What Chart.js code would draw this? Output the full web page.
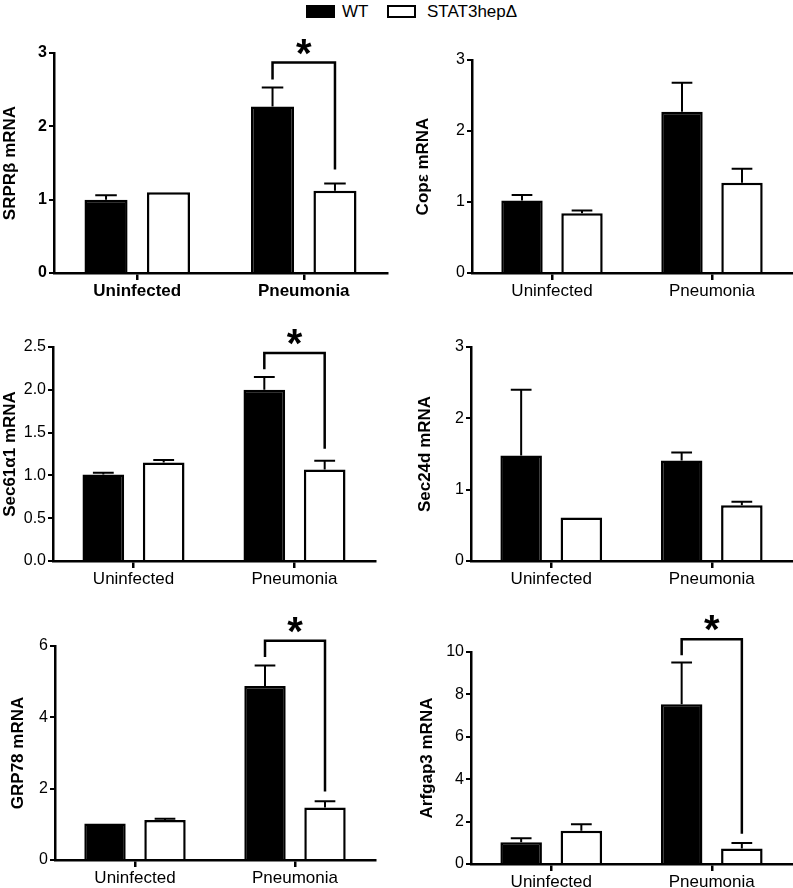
<!DOCTYPE html>
<html>
<head>
<meta charset="utf-8">
<script src="https://cdn.jsdelivr.net/npm/chart.js@4.4.0/dist/chart.umd.min.js"></script>
<style>
body { margin: 0; background: #fff; font-family: "Liberation Sans", Arial, sans-serif; }
#page { position: relative; width: 793px; height: 888px; overflow: hidden; }
canvas { position: absolute; }
.lg { position: absolute; top: 0; height: 24px; line-height: 24px; font-size: 17px; color: #000; }
.sw { position: absolute; top: 5px; width: 29px; height: 13px; box-sizing: border-box; border: 2px solid #000; }
</style>
</head>
<body>
<div id="page">
  <div class="sw" style="left:306px;background:#000"></div>
  <div class="lg" style="left:342px">WT</div>
  <div class="sw" style="left:387px;background:#fff"></div>
  <div class="lg" style="left:427px">STAT3hepΔ</div>
</div>
<script>
var categories = ['Uninfected', 'Pneumonia'];
var groups = ['WT', 'STAT3hepΔ'];

// means and error (SEM)
var srprWT = [1.00, 2.27], srprWTErr = [0.06, 0.26];
var srprKO = [1.10, 1.12], srprKOErr = [0, 0.10];
var copWT = [1.02, 2.27], copWTErr = [0.08, 0.41];
var copKO = [0.84, 1.27], copKOErr = [0.04, 0.20];
var sec61WT = [1.01, 2.00], sec61WTErr = [0.02, 0.15];
var sec61KO = [1.15, 1.07], sec61KOErr = [0.03, 0.10];
var sec24WT = [1.48, 1.41], sec24WTErr = [0.92, 0.11];
var sec24KO = [0.61, 0.78], sec24KOErr = [0, 0.05];
var grpWT = [1.02, 4.88], grpWTErr = [0, 0.57];
var grpKO = [1.12, 1.47], grpKOErr = [0.04, 0.18];
var arfWT = [1.03, 7.53], arfWTErr = [0.19, 1.97];
var arfKO = [1.57, 0.73], arfKOErr = [0.31, 0.26];

// significance brackets: [bracket top, left leg end, right leg end]
var srprSig = [2.87, 2.64, 1.41];
var sec61Sig = [2.43, 2.24, 1.31];
var grpSig = [6.15, 5.69, 1.92];
var arfSig = [10.6, 9.85, 1.43];

var panels = [
  { title: 'SRPRβ mRNA', wt: srprWT, wtErr: srprWTErr, ko: srprKO, koErr: srprKOErr, max: 3, step: 1, dec: 0, sig: srprSig, bold: true,
    box: [0, 24, 396, 281], area: [54, 53, 387, 273], tpad: 0 },
  { title: 'Copε mRNA', wt: copWT, wtErr: copWTErr, ko: copKO, koErr: copKOErr, max: 3, step: 1, dec: 0, sig: null,
    box: [396, 24, 397, 281], area: [472, 60, 792, 273], tpad: 17 },
  { title: 'Sec61α1 mRNA', wt: sec61WT, wtErr: sec61WTErr, ko: sec61KO, koErr: sec61KOErr, max: 2.5, step: 0.5, dec: 1, sig: sec61Sig,
    box: [0, 305, 396, 290], area: [53, 347, 375, 561], tpad: 0 },
  { title: 'Sec24d mRNA', wt: sec24WT, wtErr: sec24WTErr, ko: sec24KO, koErr: sec24KOErr, max: 3, step: 1, dec: 0, sig: null,
    box: [396, 305, 397, 290], area: [471, 347, 792, 561], tpad: 19 },
  { title: 'GRP78 mRNA', wt: grpWT, wtErr: grpWTErr, ko: grpKO, koErr: grpKOErr, max: 6, step: 2, dec: 0, sig: grpSig,
    box: [0, 595, 396, 293], area: [55, 646, 375, 860], tpad: 8 },
  { title: 'Arfgap3 mRNA', wt: arfWT, wtErr: arfWTErr, ko: arfKO, koErr: arfKOErr, max: 10, step: 2, dec: 0, sig: arfSig,
    box: [396, 595, 397, 293], area: [471, 652, 792, 864], tpad: 21 }
];

var FONT = '"Liberation Sans", Arial, sans-serif';
var XH = 24;

// upward error bars and the significance bracket
var extras = {
  id: 'extras',
  afterDatasetsDraw: function (chart, args, opts) {
    var ctx = chart.ctx;
    var y = chart.scales.y;
    ctx.save();
    ctx.strokeStyle = '#000';
    ctx.lineWidth = 2;
    chart.data.datasets.forEach(function (ds, i) {
      var meta = chart.getDatasetMeta(i);
      meta.data.forEach(function (bar, j) {
        var e = ds.err[j];
        if (!e) return;
        var yt = y.getPixelForValue(ds.data[j] + e);
        var hw = bar.width / 4;
        ctx.beginPath();
        ctx.moveTo(bar.x, bar.y);
        ctx.lineTo(bar.x, yt);
        ctx.moveTo(bar.x - hw, yt);
        ctx.lineTo(bar.x + hw, yt);
        ctx.stroke();
      });
    });
    var sig = opts.sig;
    if (sig) {
      var x1 = chart.getDatasetMeta(0).data[1].x;
      var x2 = chart.getDatasetMeta(1).data[1].x;
      var yTop = y.getPixelForValue(sig[0]);
      ctx.lineWidth = 2.5;
      ctx.beginPath();
      ctx.moveTo(x1, y.getPixelForValue(sig[1]));
      ctx.lineTo(x1, yTop);
      ctx.lineTo(x2, yTop);
      ctx.lineTo(x2, y.getPixelForValue(sig[2]));
      ctx.stroke();
      ctx.fillStyle = '#000';
      ctx.font = 'bold 40px ' + FONT;
      ctx.textAlign = 'center';
      ctx.textBaseline = 'alphabetic';
      ctx.fillText('*', (x1 + x2) / 2, yTop + 4);
    }
    ctx.restore();
  }
};

var page = document.getElementById('page');

panels.forEach(function (p) {
  var cv = document.createElement('canvas');
  cv.width = p.box[2];
  cv.height = p.box[3];
  cv.style.left = p.box[0] + 'px';
  cv.style.top = p.box[1] + 'px';
  page.appendChild(cv);

  var yW = p.area[0] - p.box[0];
  var weight = p.bold ? 'bold' : 'normal';

  new Chart(cv.getContext('2d'), {
    type: 'bar',
    data: {
      labels: categories,
      datasets: [{
        label: groups[0],
        data: p.wt,
        err: p.wtErr,
        backgroundColor: '#000',
        borderColor: '#000',
        borderWidth: 2.5,
        borderSkipped: 'bottom'
      }, {
        label: groups[1],
        data: p.ko,
        err: p.koErr,
        backgroundColor: '#fff',
        borderColor: '#000',
        borderWidth: 2.5,
        borderSkipped: 'bottom'
      }]
    },
    options: {
      responsive: false,
      animation: false,
      categoryPercentage: 0.75,
      barPercentage: 0.69,
      layout: {
        padding: {
          left: 0,
          top: p.area[1] - p.box[1],
          right: p.box[0] + p.box[2] - p.area[2],
          bottom: p.box[1] + p.box[3] - p.area[3] - XH
        }
      },
      plugins: {
        legend: { display: false },
        tooltip: { enabled: false },
        extras: { sig: p.sig }
      },
      scales: {
        x: {
          afterFit: function (s) { s.height = XH; },
          border: { display: true, color: '#000', width: 2.5 },
          grid: { display: true, offset: false, drawOnChartArea: false, drawTicks: true, tickLength: 7, color: '#000', lineWidth: 2.5 },
          ticks: { color: '#000', padding: 1, font: { family: FONT, size: 17, weight: weight } }
        },
        y: {
          min: 0,
          max: p.max,
          afterFit: function (s) { s.width = yW; },
          border: { display: true, color: '#000', width: 2.5 },
          grid: { display: true, drawOnChartArea: false, drawTicks: true, tickLength: 5, color: '#000', lineWidth: 2 },
          ticks: {
            stepSize: p.step,
            color: '#000',
            padding: 2,
            font: { family: FONT, size: 16, weight: weight },
            callback: function (v) { return v.toFixed(p.dec); }
          },
          title: {
            display: true,
            text: p.title,
            color: '#000',
            padding: { top: p.tpad, bottom: 0 },
            font: { family: FONT, size: 17, weight: 'bold' }
          }
        }
      }
    },
    plugins: [extras]
  });
});
</script>
</body>
</html>
